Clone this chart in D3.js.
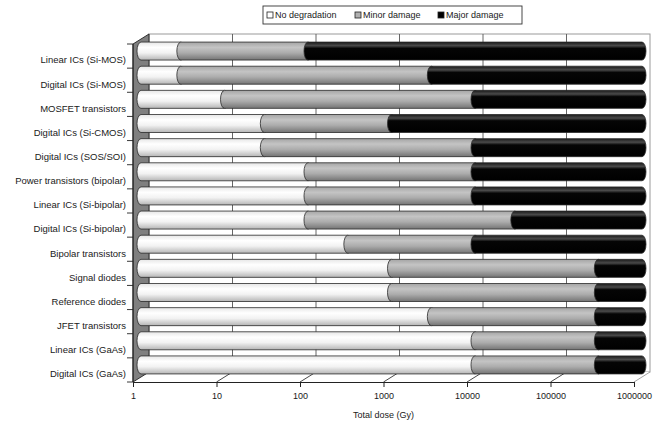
<!DOCTYPE html>
<html>
<head>
<meta charset="utf-8">
<script src="https://cdn.jsdelivr.net/npm/d3@7"></script>
<style>
  body { margin: 0; background: #fff; }
  text { font-family: "Liberation Sans", Arial, sans-serif; fill: #1a1a1a; }
</style>
</head>
<body>
<svg id="chart" width="665" height="423"></svg>
<script>
// data (dose in Gy where each damage class ends)
const categories = [
  'Linear ICs (Si-MOS)', 'Digital ICs (Si-MOS)', 'MOSFET transistors', 'Digital ICs (Si-CMOS)',
  'Digital ICs (SOS/SOI)', 'Power transistors (bipolar)', 'Linear ICs (Si-bipolar)',
  'Digital ICs (Si-bipolar)', 'Bipolar transistors', 'Signal diodes', 'Reference diodes',
  'JFET transistors', 'Linear ICs (GaAs)', 'Digital ICs (GaAs)'
];
const noDegradation = [3, 3, 10, 30, 30, 100, 100, 100, 300, 1000, 1000, 3000, 10000, 10000];
const minorDamage = [100, 3000, 10000, 1000, 10000, 10000, 10000, 30000, 10000, 300000, 300000, 300000, 300000, 300000];
const majorDamage = [1e6, 1e6, 1e6, 1e6, 1e6, 1e6, 1e6, 1e6, 1e6, 1e6, 1e6, 1e6, 1e6, 1e6];
const seriesNames = ['No degradation', 'Minor damage', 'Major damage'];
const doseTicks = [1, 10, 100, 1000, 10000, 100000, 1000000];

const svg = d3.select('#chart');
const plotL = 133, plotR = 634, plotT = 44, plotB = 382;
const depthX = 16, depthY = -10; // 3d offset of the back wall
const barH = 18;

const x = d3.scaleLog().domain([1, 1e6]).range([plotL, plotR]);
const y = d3.scaleBand().domain(categories).range([plotT, plotB]);

// gradients for the cylinder bars
const defs = svg.append('defs');
const grads = [
  { id: 'gWhite', stops: [[0, '#e6e6e6'], [0.3, '#ffffff'], [0.6, '#f2f2f2'], [1, '#b5b5b5']] },
  { id: 'gGrey', stops: [[0, '#a5a5a5'], [0.3, '#c4c4c4'], [0.6, '#acacac'], [1, '#747474']] },
  { id: 'gBlack', stops: [[0, '#1a1a1a'], [0.2, '#4a4a4a'], [0.35, '#050505'], [1, '#000000']] }
];
grads.forEach(g => {
  const lg = defs.append('linearGradient').attr('id', g.id)
    .attr('x1', 0).attr('y1', 0).attr('x2', 0).attr('y2', 1);
  g.stops.forEach(s => lg.append('stop').attr('offset', s[0]).attr('stop-color', s[1]));
});

// back wall
svg.append('rect')
  .attr('x', plotL + depthX).attr('y', plotT + depthY)
  .attr('width', plotR - plotL).attr('height', plotB - plotT)
  .attr('fill', '#fff').attr('stroke', '#9a9a9a').attr('stroke-width', 1);

// vertical gridlines on back wall
svg.append('g').selectAll('line')
  .data(doseTicks.slice(1, -1))
  .join('line')
  .attr('x1', d => x(d) + depthX).attr('x2', d => x(d) + depthX)
  .attr('y1', plotT + depthY).attr('y2', plotB + depthY)
  .attr('stroke', '#555').attr('stroke-width', 0.9);

// floor
svg.append('path')
  .attr('d', `M${plotL},${plotB}L${plotL + depthX},${plotB + depthY}L${plotR + depthX},${plotB + depthY}L${plotR},${plotB}Z`)
  .attr('fill', '#fff').attr('stroke', 'none');
svg.append('g').selectAll('line')
  .data(doseTicks.slice(1))
  .join('line')
  .attr('x1', d => x(d)).attr('x2', d => x(d) + depthX)
  .attr('y1', plotB).attr('y2', plotB + depthY)
  .attr('stroke', d => d === 1e6 ? '#9a9a9a' : '#333').attr('stroke-width', 0.9);

// left side wall
svg.append('path')
  .attr('d', `M${plotL},${plotT}L${plotL + depthX},${plotT + depthY}L${plotL + depthX},${plotB + depthY}L${plotL},${plotB}Z`)
  .attr('fill', '#7f7f7f').attr('stroke', '#222').attr('stroke-width', 0.9);

// bars: each segment a cylinder with elliptical end caps
const rx = 4;
function segPath(x0, x1, y0) {
  const y1 = y0 + barH, r = barH / 2;
  return `M${x0},${y0}L${x1},${y0}A${rx},${r} 0 0 1 ${x1},${y1}L${x0},${y1}A${rx},${r} 0 0 1 ${x0},${y0}Z`;
}
const rows = categories.map((c, i) => ({
  cat: c,
  segs: [
    { from: 1, to: noDegradation[i], fill: 'url(#gWhite)' },
    { from: noDegradation[i], to: minorDamage[i], fill: 'url(#gGrey)' },
    { from: minorDamage[i], to: majorDamage[i], fill: 'url(#gBlack)' }
  ]
}));
const barOffX = depthX / 2, barOffY = depthY / 2;
const barRows = svg.append('g').selectAll('g')
  .data(rows)
  .join('g')
  .attr('transform', d => `translate(${barOffX},${y(d.cat) + barOffY + (y.bandwidth() - barH) / 2})`);
barRows.selectAll('path')
  .data(d => d.segs)
  .join('path')
  .attr('d', d => segPath(x(d.from), x(d.to), 0))
  .attr('fill', d => d.fill)
  .attr('stroke', '#2a2a2a').attr('stroke-width', 0.8);

// bottom axis
const xAxis = d3.axisBottom(x).tickValues(doseTicks).tickFormat(d3.format('d')).tickSize(5).tickPadding(6);
const gx = svg.append('g').attr('transform', `translate(0,${plotB})`).call(xAxis);
gx.select('.domain').attr('stroke', '#222');
gx.selectAll('.tick line').attr('stroke', '#222');
gx.selectAll('.tick text').attr('font-size', 9).attr('fill', '#1a1a1a');

svg.append('text')
  .attr('x', (plotL + plotR) / 2).attr('y', 418)
  .attr('text-anchor', 'middle').attr('font-size', 9)
  .text('Total dose (Gy)');

// left axis: category ticks at band boundaries
svg.append('line')
  .attr('x1', plotL).attr('x2', plotL).attr('y1', plotT).attr('y2', plotB)
  .attr('stroke', '#222');
svg.append('g').selectAll('line')
  .data(categories.map(c => y(c)).concat([plotB]))
  .join('line')
  .attr('x1', plotL - 6).attr('x2', plotL)
  .attr('y1', d => d).attr('y2', d => d)
  .attr('stroke', '#222').attr('stroke-width', 0.9);
svg.append('g').selectAll('text')
  .data(categories)
  .join('text')
  .attr('x', plotL - 7)
  .attr('y', d => y(d) + y.bandwidth() / 2 + 4)
  .attr('dy', '0.35em')
  .attr('text-anchor', 'end')
  .attr('font-size', 9.5)
  .text(d => d);

// legend
const legend = svg.append('g').attr('transform', 'translate(263,6)');
legend.append('rect').attr('width', 259).attr('height', 18)
  .attr('fill', '#fff').attr('stroke', '#333').attr('stroke-width', 0.9);
const legendFills = ['#ffffff', '#b0b0b0', '#000000'];
const legendX = [4, 92, 175];
const li = legend.selectAll('g.item')
  .data(seriesNames)
  .join('g').attr('class', 'item')
  .attr('transform', (d, i) => `translate(${legendX[i]},6)`);
li.append('rect').attr('width', 6).attr('height', 6)
  .attr('fill', (d, i) => legendFills[i]).attr('stroke', '#222').attr('stroke-width', 0.8);
li.append('text').attr('x', 8).attr('y', 3).attr('dy', '0.35em')
  .attr('font-size', 9).text(d => d);
</script>
</body>
</html>
